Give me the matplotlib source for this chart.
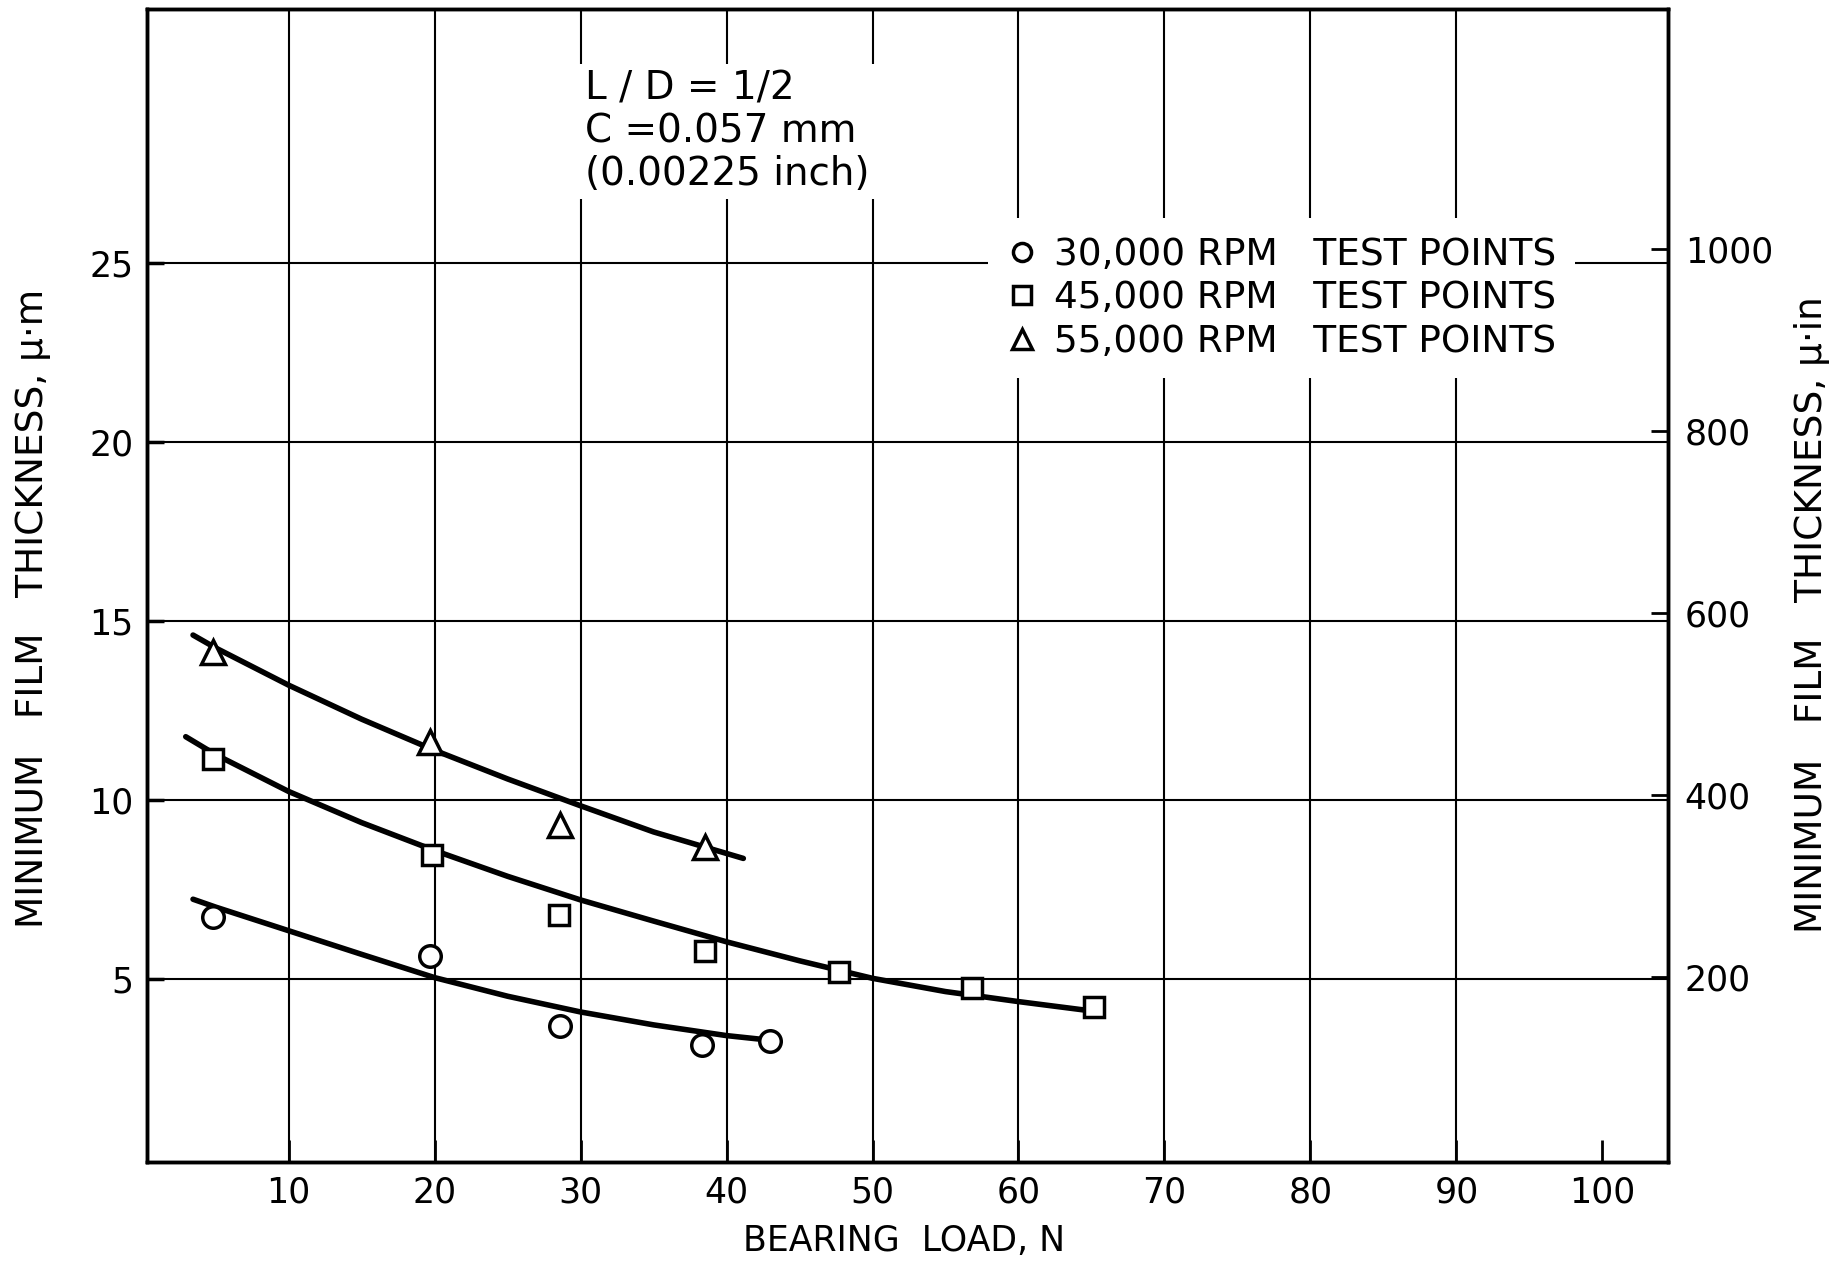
import matplotlib.pyplot as plt
from matplotlib.lines import Line2D

plt.rcParams['font.family'] = ['DejaVu Sans']

# test points (load in N, film thickness in micrometres)
load_30k = [4.8, 19.7, 28.6, 38.3, 43.0]
h_30k = [6.75, 5.64, 3.71, 3.18, 3.29]
load_45k = [4.8, 19.8, 28.5, 38.5, 47.7, 56.8, 65.2]
h_45k = [11.15, 8.48, 6.79, 5.78, 5.20, 4.77, 4.24]
load_55k = [4.8, 19.7, 28.6, 38.5]
h_55k = [14.16, 11.64, 9.32, 8.71]

# faired curves, points
curve_30k_x = [3.45, 5, 10, 15, 20, 25, 30, 35, 40, 43.0]
curve_30k_y = [7.24, 7.02, 6.36, 5.70, 5.05, 4.53, 4.09, 3.73, 3.43, 3.30]
curve_45k_x = [2.95, 5, 10, 15, 20, 25, 30, 35, 40, 45, 50, 55, 60, 64.6]
curve_45k_y = [11.78, 11.28, 10.25, 9.38, 8.60, 7.88, 7.22, 6.63, 6.05, 5.52, 5.03, 4.66, 4.38, 4.14]
curve_55k_x = [3.45, 5, 10, 15, 20, 25, 30, 35, 41.15]
curve_55k_y = [14.62, 14.26, 13.22, 12.27, 11.4, 10.6, 9.85, 9.12, 8.38]

x_ticks = [10, 20, 30, 40, 50, 60, 70, 80, 90, 100]
y_ticks = [5, 10, 15, 20, 25]
y2_ticks = [200, 400, 600, 800, 1000]
um_per_uin = 0.0254

labels = ["30,000 RPM   TEST POINTS",
          "45,000 RPM   TEST POINTS",
          "55,000 RPM   TEST POINTS"]
note = "L / D = 1/2\nC =0.057 mm\n(0.00225 inch)"

fig = plt.figure(figsize=(18.45, 12.63), dpi=100)
ax = fig.add_axes([0.0797, 0.080, 0.8244, 0.9126])

ax.set_xlim(0.3, 104.5)
ax.set_ylim(-0.1, 32.1)
ax.set_xticks(x_ticks)
ax.set_yticks(y_ticks)
ax.grid(True, color='black', linewidth=1.5, zorder=1)
ax.set_axisbelow(True)
ax.xaxis.get_gridlines()[-1].set_visible(False)
ax.tick_params(axis='x', direction='in', length=16, width=2, pad=10, labelsize=25)
ax.tick_params(axis='y', direction='in', length=12, width=2.5, pad=10, labelsize=25)
for s in ax.spines.values():
    s.set_linewidth(2.5)

# curves
for cx, cy in [(curve_30k_x, curve_30k_y), (curve_45k_x, curve_45k_y),
               (curve_55k_x, curve_55k_y)]:
    ax.plot(cx, cy, color='black', linewidth=4, solid_capstyle='round',
            solid_joinstyle='round', zorder=3)

mk = dict(linestyle='none', markerfacecolor='white', markeredgecolor='black',
          markeredgewidth=2.5)
ax.plot(load_30k, h_30k, marker='o', markersize=15.5, zorder=4, **mk)
ax.plot(load_45k, h_45k, marker='s', markersize=15, zorder=4, **mk)
ax.plot(load_55k, h_55k, marker='^', markersize=17.5, zorder=4, **mk)

ax.text(30.3, 30.42, note, ha='left', va='top', fontsize=28, linespacing=1.16,
        bbox=dict(boxstyle='square,pad=0.15', fc='white', ec='none'), zorder=5)

handles = [Line2D([], [], marker=m, markersize=s, **mk)
           for m, s in [('o', 13), ('s', 13), ('^', 14)]]
leg = ax.legend(handles, labels, loc='upper left', bbox_to_anchor=(0.553, 0.819),
                fontsize=27, frameon=True, framealpha=1, fancybox=False,
                borderpad=0.5, borderaxespad=0, handlelength=0.8,
                handletextpad=0.45, labelspacing=0.2)
leg.get_frame().set_edgecolor('white')
leg.get_frame().set_linewidth(0)

ax.set_xlabel("BEARING  LOAD, N", fontsize=25, va='center')
ax.xaxis.set_label_coords(0.4977, -0.0685)
ax.set_ylabel("MINIMUM   FILM   THICKNESS, µ·m", fontsize=27, va='center')
ax.yaxis.set_label_coords(-0.075, 0.48)

ax2 = ax.twinx()
ax2.set_ylim(-0.1 / um_per_uin, 32.1 / um_per_uin)
ax2.set_yticks(y2_ticks)
ax2.tick_params(axis='y', direction='in', length=12, width=2, pad=12, labelsize=25)
ax2.set_ylabel("MINIMUM   FILM   THICKNESS, µ·in", fontsize=27, va='center')
ax2.yaxis.set_label_coords(1.0947, 0.475)
for s in ax2.spines.values():
    s.set_linewidth(2.5)

fig.savefig('out.png', dpi=100, facecolor='white')
